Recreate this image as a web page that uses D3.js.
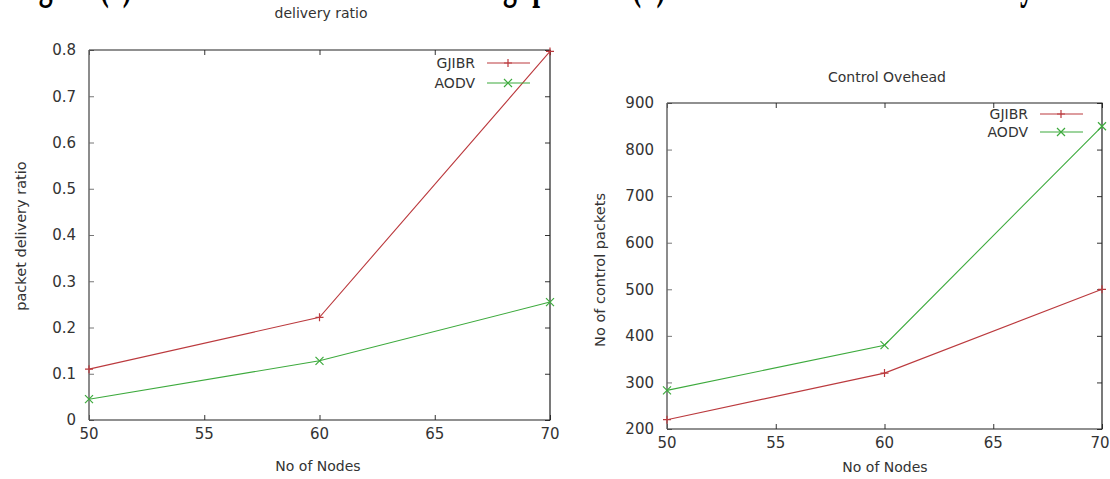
<!DOCTYPE html>
<html>
<head>
<meta charset="utf-8">
<script src="https://cdn.jsdelivr.net/npm/d3@7"></script>
<style>
    body { margin: 0; background: #fff; }
    svg { display: block; }
    svg text { font-family: "DejaVu Sans", sans-serif; fill: #333; }
    .caption { font-family: "Liberation Serif", serif; font-weight: bold; fill: #000; }
</style>
</head>
<body>
<svg class="chart"></svg>
<script>
var nodes = [50, 60, 70];
var seriesNames = ["GJIBR", "AODV"];

var ratioGJIBR = [0.11, 0.222, 0.797];
var ratioAODV = [0.045, 0.128, 0.255];
var ratioTicks = [0, 0.1, 0.2, 0.3, 0.4, 0.5, 0.6, 0.7, 0.8];

var ctrlGJIBR = [220, 320, 500];
var ctrlAODV = [283, 380, 850];
var ctrlTicks = [200, 300, 400, 500, 600, 700, 800, 900];

var nodeTicks = [50, 55, 60, 65, 70];

var width = 1110, height = 479;
var colors = {GJIBR: "#bb3a3e", AODV: "#3daa3d"};

var chart = d3.select(".chart").attr("width", width).attr("height", height);

// cut-off caption line at the very top, only descenders show
chart.append("text")
    .attr("class", "caption")
    .attr("x", 14).attr("y", -2)
    .attr("textLength", 1020).attr("lengthAdjust", "spacingAndGlyphs")
    .style("font-size", "48px")
    .text("Figure (a) Performance in terms of throughput and (b) Performance in terms of delay");

function marker(g, type, x, y, col) {
    var s = 4;
    var p = type == "GJIBR"
        ? "M" + (x - s) + "," + y + "H" + (x + s) + "M" + x + "," + (y - s) + "V" + (y + s)
        : "M" + (x - s) + "," + (y - s) + "L" + (x + s) + "," + (y + s) + "M" + (x - s) + "," + (y + s) + "L" + (x + s) + "," + (y - s);
    g.append("path").attr("d", p).attr("stroke", col).attr("stroke-width", 1.2).attr("fill", "none");
}

function drawPlot(o) {
    var x = d3.scaleLinear().domain([50, 70]).range([o.x0, o.x1]);
    var y = d3.scaleLinear().domain(o.ydom).range([o.y1, o.y0]);
    var g = chart.append("g");

    // tick marks, mirrored on all four sides, pointing inward
    var tl = 5;
    g.append("g").call(d3.axisLeft(y).tickValues(o.yticks).tickSize(-tl).tickFormat(""))
        .attr("transform", "translate(" + o.x0 + ",0)")
        .call(function(a) { a.select(".domain").remove(); a.selectAll("line").attr("stroke", "#777"); });
    g.append("g").call(d3.axisRight(y).tickValues(o.yticks).tickSize(-tl).tickFormat(""))
        .attr("transform", "translate(" + o.x1 + ",0)")
        .call(function(a) { a.select(".domain").remove(); a.selectAll("line").attr("stroke", "#333"); });
    g.append("g").call(d3.axisBottom(x).tickValues(nodeTicks).tickSize(-tl).tickFormat(""))
        .attr("transform", "translate(0," + o.y1 + ")")
        .call(function(a) { a.select(".domain").remove(); a.selectAll("line").attr("stroke", "#333"); });
    g.append("g").call(d3.axisTop(x).tickValues(nodeTicks).tickSize(-tl).tickFormat(""))
        .attr("transform", "translate(0," + o.y0 + ")")
        .call(function(a) { a.select(".domain").remove(); a.selectAll("line").attr("stroke", "#333"); });

    // border
    g.append("path")
        .attr("d", "M" + o.x0 + "," + o.y0 + "H" + o.x1 + "V" + o.y1 + "H" + o.x0)
        .attr("fill", "none").attr("stroke", "#222").attr("stroke-width", 1.2);
    g.append("line")
        .attr("x1", o.x0).attr("x2", o.x0).attr("y1", o.y0).attr("y2", o.y1)
        .attr("stroke", "#666").attr("stroke-width", 1.5);

    // tick labels
    g.selectAll(".yl").data(o.yticks).enter().append("text")
        .attr("x", o.x0 - 13).attr("y", function(d) { return y(d); })
        .attr("dy", "0.35em").attr("text-anchor", "end")
        .style("font-size", "15px")
        .text(o.yfmt);
    g.selectAll(".xl").data(nodeTicks).enter().append("text")
        .attr("x", function(d) { return Math.min(x(d), width - 10); }).attr("y", o.y1 + o.xlOff)
        .attr("text-anchor", "middle")
        .style("font-size", "15px")
        .text(function(d) { return d; });

    // titles
    g.append("text").attr("x", o.tx).attr("y", o.ty).attr("text-anchor", "middle")
        .style("font-size", "14px").text(o.title);
    g.append("text").attr("x", o.xlx).attr("y", o.xly).attr("text-anchor", "middle")
        .style("font-size", "14px").text("No of Nodes");
    g.append("text").attr("transform", "translate(" + o.ylx + "," + o.yly + ") rotate(-90)")
        .attr("text-anchor", "middle").style("font-size", "14.5px").text(o.ylabel);

    // series
    var line = d3.line().x(function(d) { return x(d[0]); }).y(function(d) { return y(d[1]); });
    o.series.forEach(function(s, i) {
        var pts = nodes.map(function(n, j) { return [n, s[j]]; });
        var col = colors[seriesNames[i]];
        g.append("path").datum(pts).attr("d", line)
            .attr("fill", "none").attr("stroke", col).attr("stroke-width", 1.1);
        pts.forEach(function(p) { marker(g, seriesNames[i], x(p[0]), y(p[1]), col); });

        // legend
        var ly = o.ly + i * o.lstep;
        g.append("text").attr("x", o.lx).attr("y", ly).attr("dy", "0.35em")
            .attr("text-anchor", "end").style("font-size", "14px").text(seriesNames[i]);
        g.append("line").attr("x1", o.lx + 12).attr("x2", o.lx + 55).attr("y1", ly).attr("y2", ly)
            .attr("stroke", col).attr("stroke-width", 1.1);
        marker(g, seriesNames[i], o.lx + 33, ly, col);
    });
}

drawPlot({
    x0: 89, x1: 550, y0: 50, y1: 420,
    ydom: [0, 0.8], yticks: ratioTicks,
    yfmt: function(d) { return d === 0 ? "0" : d3.format(".1f")(d); },
    series: [ratioGJIBR, ratioAODV],
    xlOff: 19,
    title: "delivery ratio", tx: 321, ty: 18,
    xlx: 318, xly: 471,
    ylabel: "packet delivery ratio", ylx: 26, yly: 236,
    lx: 475, ly: 63, lstep: 20
});

drawPlot({
    x0: 667, x1: 1102, y0: 103, y1: 429,
    ydom: [200, 900], yticks: ctrlTicks,
    yfmt: function(d) { return d; },
    series: [ctrlGJIBR, ctrlAODV],
    xlOff: 19,
    title: "Control Ovehead", tx: 887, ty: 82,
    xlx: 885, xly: 472,
    ylabel: "No of control packets", ylx: 605, yly: 270,
    lx: 1028, ly: 114, lstep: 18
});
</script>
</body>
</html>
